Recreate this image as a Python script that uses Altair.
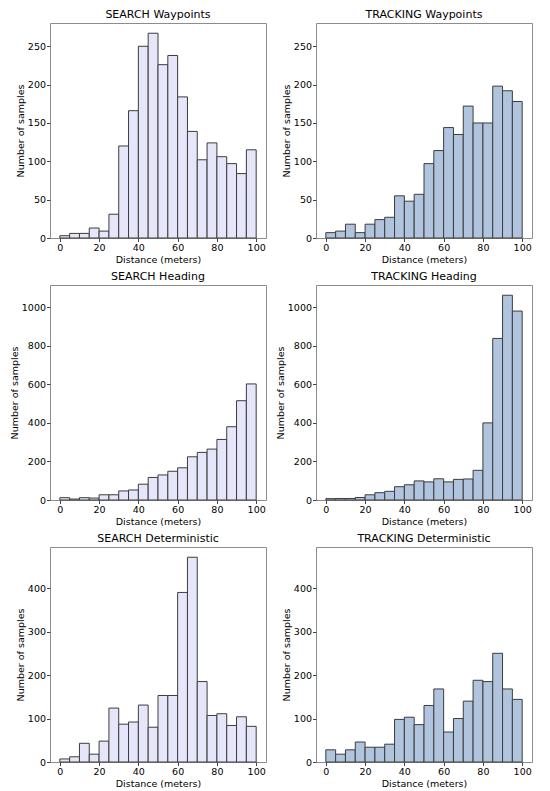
import altair as alt
import pandas as pd

# Histogram bins (meters): start of each 5 m bin
bin_starts = [0, 5, 10, 15, 20, 25, 30, 35, 40, 45, 50, 55, 60, 65, 70, 75, 80, 85, 90, 95]
bin_ends = [5, 10, 15, 20, 25, 30, 35, 40, 45, 50, 55, 60, 65, 70, 75, 80, 85, 90, 95, 100]

search_waypoints = [3, 6, 6, 13, 9, 31, 120, 166, 250, 267, 226, 238, 184, 139, 102, 124, 106, 97, 84, 115]
tracking_waypoints = [7, 9, 18, 7, 18, 24, 27, 55, 48, 57, 97, 114, 144, 135, 172, 150, 150, 198, 192, 178]
search_heading = [12, 5, 12, 10, 27, 27, 47, 52, 82, 117, 130, 149, 167, 224, 247, 264, 314, 380, 515, 602]
tracking_heading = [7, 8, 8, 13, 27, 38, 45, 69, 79, 99, 94, 110, 94, 107, 109, 154, 400, 838, 1062, 980]
search_deterministic = [7, 12, 43, 18, 48, 124, 87, 92, 131, 80, 153, 153, 390, 471, 185, 107, 111, 84, 104, 82]
tracking_deterministic = [28, 18, 28, 46, 34, 34, 41, 98, 103, 86, 130, 168, 69, 100, 140, 188, 185, 250, 168, 144]

x_ticks = [0, 20, 40, 60, 80, 100]
y_ticks_row1 = [0, 50, 100, 150, 200, 250]
y_ticks_row2 = [0, 200, 400, 600, 800, 1000]
y_ticks_row3 = [0, 100, 200, 300, 400]

SEARCH_COLOR = "#E6E6FA"
TRACKING_COLOR = "#B0C4DE"

W = 216
H = 215


def panel(title, counts, color, yticks, ymax):
    df = pd.DataFrame({"start": bin_starts, "end": bin_ends, "count": counts})
    return (
        alt.Chart(df, title=alt.Title(title))
        .mark_bar(color=color, stroke="#3c3c3c", strokeWidth=1)
        .encode(
            x=alt.X(
                "start:Q",
                scale=alt.Scale(domain=[-5, 105], nice=False, zero=False),
                axis=alt.Axis(values=x_ticks, title="Distance (meters)"),
            ),
            x2="end:Q",
            y=alt.Y(
                "count:Q",
                scale=alt.Scale(domain=[0, ymax], nice=False),
                axis=alt.Axis(values=yticks, format="d", title="Number of samples"),
            ),
            y2=alt.datum(0),
        )
        .properties(width=W, height=H)
    )


ymax1 = 1.05 * max(search_waypoints + tracking_waypoints)
ymax2 = 1.05 * max(search_heading + tracking_heading)
ymax3 = 1.05 * max(search_deterministic + tracking_deterministic)

panels = [
    panel("SEARCH Waypoints", search_waypoints, SEARCH_COLOR, y_ticks_row1, ymax1),
    panel("TRACKING Waypoints", tracking_waypoints, TRACKING_COLOR, y_ticks_row1, ymax1),
    panel("SEARCH Heading", search_heading, SEARCH_COLOR, y_ticks_row2, ymax2),
    panel("TRACKING Heading", tracking_heading, TRACKING_COLOR, y_ticks_row2, ymax2),
    panel("SEARCH Deterministic", search_deterministic, SEARCH_COLOR, y_ticks_row3, ymax3),
    panel("TRACKING Deterministic", tracking_deterministic, TRACKING_COLOR, y_ticks_row3, ymax3),
]

chart = (
    alt.concat(*panels, columns=2, spacing=alt.RowColnumber(row=6, column=7))
    .properties(padding=0, background="white")
    .configure_view(stroke="#8c8c8c", strokeWidth=1)
    .configure_axis(
        labelFont="DejaVu Sans",
        titleFont="DejaVu Sans",
        labelFontSize=9.5,
        titleFontSize=9.5,
        titleFontWeight="normal",
        labelColor="black",
        titleColor="black",
        tickColor="#444444",
        tickSize=3.5,
        domain=False,
        grid=False,
        labelPadding=1,
        titlePadding=2,
    )
    .configure_title(
        font="DejaVu Sans",
        fontSize=11,
        fontWeight="normal",
        color="black",
        offset=3,
        anchor="middle",
    )
)

chart.save("out.html", embed_options={"renderer": "svg", "actions": False})
